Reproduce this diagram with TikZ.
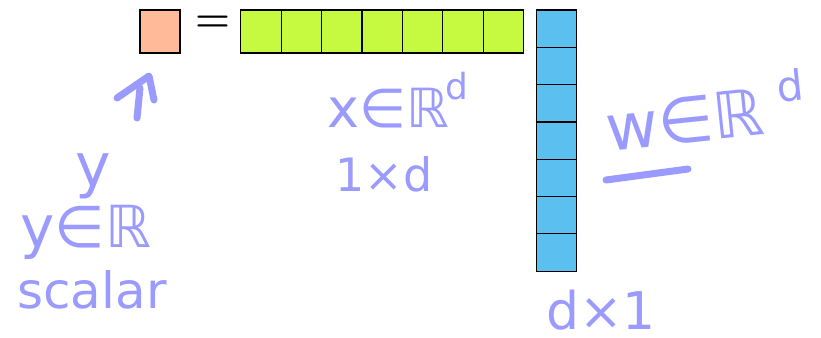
\documentclass[tikz,border=0pt]{standalone}
\usepackage{fontspec}
\newfontfamily\handfont{DejaVu Sans}
\definecolor{ycol}{RGB}{255,187,153}
\definecolor{xcol}{RGB}{198,250,65}
\definecolor{wcol}{RGB}{91,192,240}
\definecolor{ink}{RGB}{155,155,255}
\tikzset{
  cell/.style={draw=black, line width=1.2pt, minimum width=40.4pt, minimum height=43pt, inner sep=0pt, outer sep=0pt},
  wcell/.style={draw=black, line width=1.2pt, minimum width=40pt, minimum height=37.3pt, inner sep=0pt, outer sep=0pt, fill=wcol},
  hand/.style={text=ink, font=\handfont, inner sep=0pt},
  hs/.style={font=\handfont\fontsize{#1}{#1}\selectfont},
  stroke/.style={draw=ink, line width=7pt, line cap=round, line join=round}
}
\begin{document}
\begin{tikzpicture}[x=1pt,y=-1pt]
  \useasboundingbox (0,0) rectangle (821,337);
  % scalar output y
  \node[cell, fill=ycol, minimum width=40pt, minimum height=43pt, anchor=north west] (y) at (140,10) {};
  \node[font=\bfseries\fontsize{40}{40}\selectfont, inner sep=0pt] (eq) at (213,24) {=};
  % row vector x (1 x d)
  \foreach \i in {0,...,6} {
    \node[cell, fill=xcol, anchor=north west] (x\i) at ({240.7+40.4*\i},10) {};
  }
  % column vector w (d x 1)
  \foreach \i in {0,...,6} {
    \node[wcell, anchor=north west] (w\i) at (536.7,{10+37.3*\i}) {};
  }
  % handwritten arrow under y
  \coordinate (shaftlo) at (137,118);
  \coordinate (shafthi) at (140,88);
  \coordinate (barbl) at (117,98);
  \coordinate (tip) at (149,76);
  \coordinate (barbr) at (154,100);
  \draw[stroke] (shaftlo) -- (shafthi);
  \draw[stroke] (barbl) -- (tip) -- (barbr);
  % handwritten labels
  \node[hand, hs=60] (ylab) at (93,176) {y};
  \node[hand, hs=58] (yset) at (86,232) {y∈ℝ};
  \node[hand, hs=50] (yscalar) at (92,290) {scalar};
  \node[hand, hs=54] (xset) at (388,108) {x∈ℝ};
  \node[hand, hs=36] (xsup) at (457,86) {d};
  \node[hand, hs=46] (xdim) at (384,174) {1×d};
  \node[hand, hs=64, rotate=6] (wset) at (685,120) {w∈ℝ};
  \node[hand, hs=42, rotate=6] (wsup) at (790,86) {d};
  \coordinate (ul1) at (606,180);
  \coordinate (ul2) at (688,169);
  \draw[stroke] (ul1) -- (ul2);
  \node[hand, hs=52] (wdim) at (601,310) {d×1};
\end{tikzpicture}
\end{document}
